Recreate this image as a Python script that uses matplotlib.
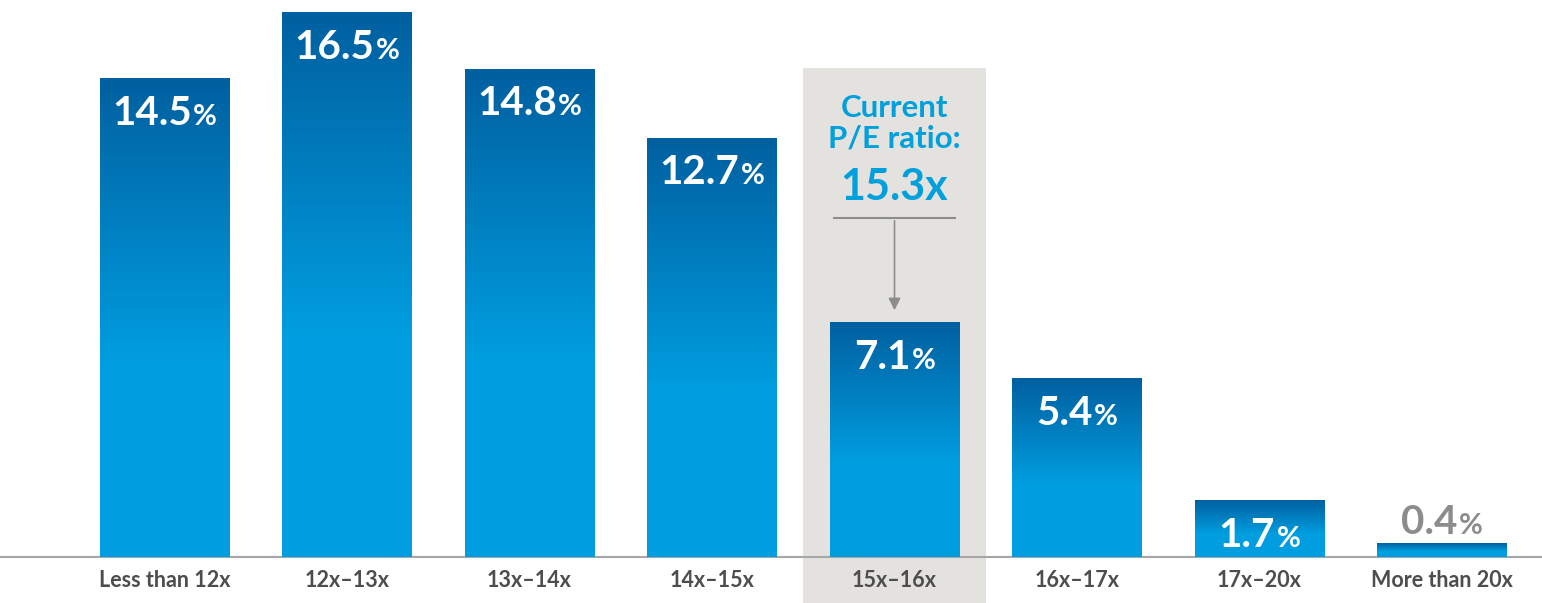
import numpy as np
import matplotlib as mpl
import matplotlib.pyplot as plt
from matplotlib.colors import LinearSegmentedColormap
from matplotlib.offsetbox import TextArea, HPacker, AnnotationBbox
mpl.use('Agg')

# data
categories = ['Less than 12x', '12x\u201313x', '13x\u201314x', '14x\u201315x',
              '15x\u201316x', '16x\u201317x', '17x\u201320x', 'More than 20x']
values = [14.5, 16.5, 14.8, 12.7, 7.1, 5.4, 1.7, 0.4]
labels = ['14.5', '16.5', '14.8', '12.7', '7.1', '5.4', '1.7', '0.4']
current_idx = 4
current_pe = '15.3x'

plt.rcParams['font.family'] = ['Lato', 'DejaVu Sans']

fig = plt.figure(figsize=(15.42, 6.03), dpi=100)
ax = fig.add_axes([0, 0, 1, 1])
xlim = (-0.9014, 7.548)
ylim = (-1.395, 16.894)
ax.axis('off')

width = 0.707
cmap = LinearSegmentedColormap.from_list('bar', ['#009ee0', '#0060a0'])
# gradient column: bottom 40% flat light blue, top 60% fades to dark blue
t = np.linspace(0, 1, 256)
grad = np.clip((t - 0.4) / 0.6, 0, 1).reshape(-1, 1)

# highlight box behind the current range (top at ~pixel 68)
box_top = (557 - 68) / 32.97
ax.fill_between([current_idx - 0.504, current_idx + 0.504], ylim[0], box_top,
                color='#e3e2de', zorder=0, lw=0)

ax.axhline(0, color='#a6a6a6', lw=1.5, zorder=1)

for i, v in enumerate(values):
    x0 = i - width / 2
    ax.imshow(grad, cmap=cmap, vmin=0, vmax=1, origin='lower', aspect='auto',
              extent=(x0, x0 + width, 0, v), zorder=2, interpolation='bilinear')
    ax.text(i, -0.7, categories[i], ha='center', va='center', fontsize=15.5,
            fontweight='bold', color='#4d4d4d')
    if v > 1:
        col, ypos = 'white', v - 1.05
    else:
        col, ypos = '#8c8c8c', v + 0.65
    num = TextArea(labels[i], textprops=dict(fontsize=29, fontweight='bold', color=col))
    pct = TextArea('%', textprops=dict(fontsize=21, fontweight='bold', color=col))
    pack = HPacker(children=[num, pct], align='baseline', pad=0, sep=1)
    ab = AnnotationBbox(pack, (i, ypos), frameon=False, box_alignment=(0.5, 0.5),
                        pad=0, zorder=4)
    ax.add_artist(ab)

ax.set_xlim(*xlim)
ax.set_ylim(*ylim)

# current P/E annotation
ax.text(current_idx, 13.15, 'Current\nP/E ratio:', ha='center', va='center',
        fontsize=22.5, fontweight='bold', color='#00a0dc', linespacing=1.12)
ax.text(current_idx, 11.22, current_pe, ha='center', va='center',
        fontsize=31, fontweight='bold', color='#00a0dc')
line_y = (557 - 218) / 32.97
ax.plot([current_idx - 0.33, current_idx + 0.33], [line_y, line_y], color='#8c8c8c', lw=1.5, zorder=3)
ax.annotate('', xy=(current_idx, values[current_idx] + 0.3), xytext=(current_idx, line_y),
            arrowprops=dict(arrowstyle='-|>', color='#8c8c8c', lw=1.2, mutation_scale=18))

plt.savefig('out.png', dpi=100)
